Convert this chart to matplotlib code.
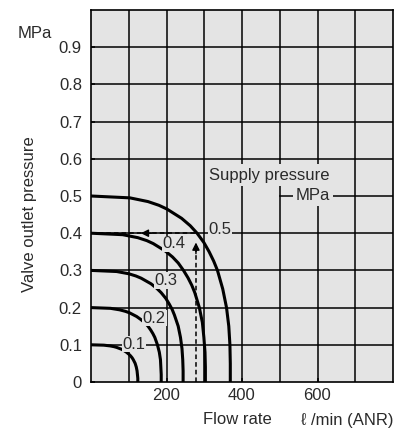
import matplotlib
matplotlib.use("Agg")
import matplotlib.pyplot as plt

plt.rcParams['font.family'] = ['Liberation Sans', 'DejaVu Sans']

# ---- data ----
supply_pressures = [0.1, 0.2, 0.3, 0.4, 0.5]
curve_labels = ["0.1", "0.2", "0.3", "0.4", "0.5"]

flow_01 = [0, 34, 51, 61, 68, 81, 88, 94, 100, 105, 109, 112, 117, 120, 122, 123, 124, 124]
pres_01 = [0.1, 0.099, 0.097, 0.095, 0.093, 0.088, 0.084, 0.08, 0.075, 0.07, 0.065, 0.06, 0.05, 0.04, 0.03, 0.02, 0.01, 0]

flow_02 = [0, 52, 76, 91, 102, 121, 132, 142, 151, 158, 164, 169, 176, 181, 184, 185, 186, 186]
pres_02 = [0.2, 0.198, 0.194, 0.19, 0.186, 0.176, 0.168, 0.16, 0.15, 0.14, 0.13, 0.12, 0.10, 0.08, 0.06, 0.04, 0.02, 0]

flow_03 = [0, 68, 100, 119, 133, 159, 174, 186, 198, 207, 215, 221, 231, 237, 241, 243, 244, 244]
pres_03 = [0.3, 0.297, 0.291, 0.285, 0.279, 0.264, 0.252, 0.24, 0.225, 0.21, 0.195, 0.18, 0.15, 0.12, 0.09, 0.06, 0.03, 0]

flow_04 = [0, 84, 124, 148, 165, 197, 216, 231, 245, 257, 267, 275, 287, 295, 299, 302, 303, 303]
pres_04 = [0.4, 0.396, 0.388, 0.38, 0.372, 0.352, 0.336, 0.32, 0.30, 0.28, 0.26, 0.24, 0.20, 0.16, 0.12, 0.08, 0.04, 0]

flow_05 = [0, 103, 151, 180, 201, 240, 263, 281, 299, 313, 325, 335, 349, 359, 365, 368, 369, 369]
pres_05 = [0.5, 0.495, 0.485, 0.475, 0.465, 0.44, 0.42, 0.40, 0.375, 0.35, 0.325, 0.30, 0.25, 0.20, 0.15, 0.10, 0.05, 0]

curve_flows = [flow_01, flow_02, flow_03, flow_04, flow_05]
curve_pres = [pres_01, pres_02, pres_03, pres_04, pres_05]

# curve label anchor points (flow, pressure)
label_flow = [114, 168, 199, 220, 342]
label_pres = [0.102, 0.172, 0.272, 0.371, 0.411]

# example reading (dashed guide)
guide_flow = 278
guide_pressure = 0.4

x_ticks = [200, 400, 600]
y_ticks = [0, 0.1, 0.2, 0.3, 0.4, 0.5, 0.6, 0.7, 0.8, 0.9]
y_tick_labels = ["0", "0.1", "0.2", "0.3", "0.4", "0.5", "0.6", "0.7", "0.8", "0.9"]

# ---- drawing ----
BG = '#e4e4e4'
TXT = '#2a2a2a'
FS = 12
fig = plt.figure(figsize=(4.08, 4.32), dpi=100)
ax = fig.add_axes([91/408, 1 - 382/432, 302/408, 372/432])
ax.set_facecolor(BG)
ax.set_xlim(0, 800)
ax.set_ylim(0, 1.0)

# grid lines
for gx in range(100, 800, 100):
    ax.axvline(gx, color='black', lw=1.1, zorder=1)
for gy in [0.1, 0.2, 0.3, 0.4, 0.6, 0.7, 0.8, 0.9]:
    ax.axhline(gy, color='black', lw=1.1, zorder=1)
ax.axhline(0.5, xmin=500/800, xmax=1.0, color='black', lw=1.1, zorder=1)

for s in ax.spines.values():
    s.set_color('black')
    s.set_linewidth(1.2)

# curves
for fl, pr in zip(curve_flows, curve_pres):
    ax.plot(fl, pr, color='black', lw=2.2, solid_capstyle='butt', zorder=3)

# dashed guide lines
ax.plot([0, guide_flow], [guide_pressure, guide_pressure], color='black', lw=1.1,
        dashes=(3, 2), zorder=2.5)
ax.plot([guide_flow, guide_flow], [0, guide_pressure - 0.03], color='black', lw=1.1,
        dashes=(3, 2), zorder=2.5)
ax.annotate('', xy=(132, guide_pressure), xytext=(160, guide_pressure),
            arrowprops=dict(arrowstyle='-|>', color='black', lw=1.0,
                            mutation_scale=11, shrinkA=0, shrinkB=0), zorder=4)
ax.annotate('', xy=(guide_flow, 0.375), xytext=(guide_flow, 0.345),
            arrowprops=dict(arrowstyle='-|>', color='black', lw=1.0,
                            mutation_scale=11, shrinkA=0, shrinkB=0), zorder=4)

# curve labels
for lbl, fx, py in zip(curve_labels, label_flow, label_pres):
    ax.text(fx, py, lbl, fontsize=FS, color=TXT, ha='center', va='center', zorder=5,
            bbox=dict(boxstyle='square,pad=0.05', fc=BG, ec='none'))

ax.text(472, 0.556, "Supply pressure", fontsize=FS, color=TXT, ha='center', va='center',
        zorder=5, bbox=dict(boxstyle='square,pad=0.2', fc=BG, ec='none'))
ax.text(588, 0.5, "MPa", fontsize=FS, color=TXT, ha='center', va='center',
        zorder=5, bbox=dict(boxstyle='square,pad=0.15', fc=BG, ec='none'))

# ticks
ax.set_xticks(x_ticks)
ax.set_xticklabels([str(t) for t in x_ticks])
ax.set_yticks(y_ticks)
ax.set_yticklabels(y_tick_labels)
ax.tick_params(direction='in', length=3, width=1.1, labelsize=FS, labelcolor=TXT)
ax.tick_params(axis='x', pad=4.5)
ax.tick_params(axis='y', pad=6.5)

# axis titles
fig.text(34.5/408, 1 - 33/432, "MPa", fontsize=FS, color=TXT, ha='center', va='center')
fig.text(30/408, 1 - 214/432, "Valve outlet pressure", fontsize=FS, color=TXT,
         ha='center', va='center', rotation=90)
fig.text(237/408, 1 - 420/432, "Flow rate", fontsize=FS, color=TXT, ha='center', va='center')
fig.text(347/408, 1 - 420/432, "ℓ /min (ANR)", fontsize=FS, color=TXT, ha='center', va='center')

fig.savefig("out.png", dpi=100, facecolor='white')
